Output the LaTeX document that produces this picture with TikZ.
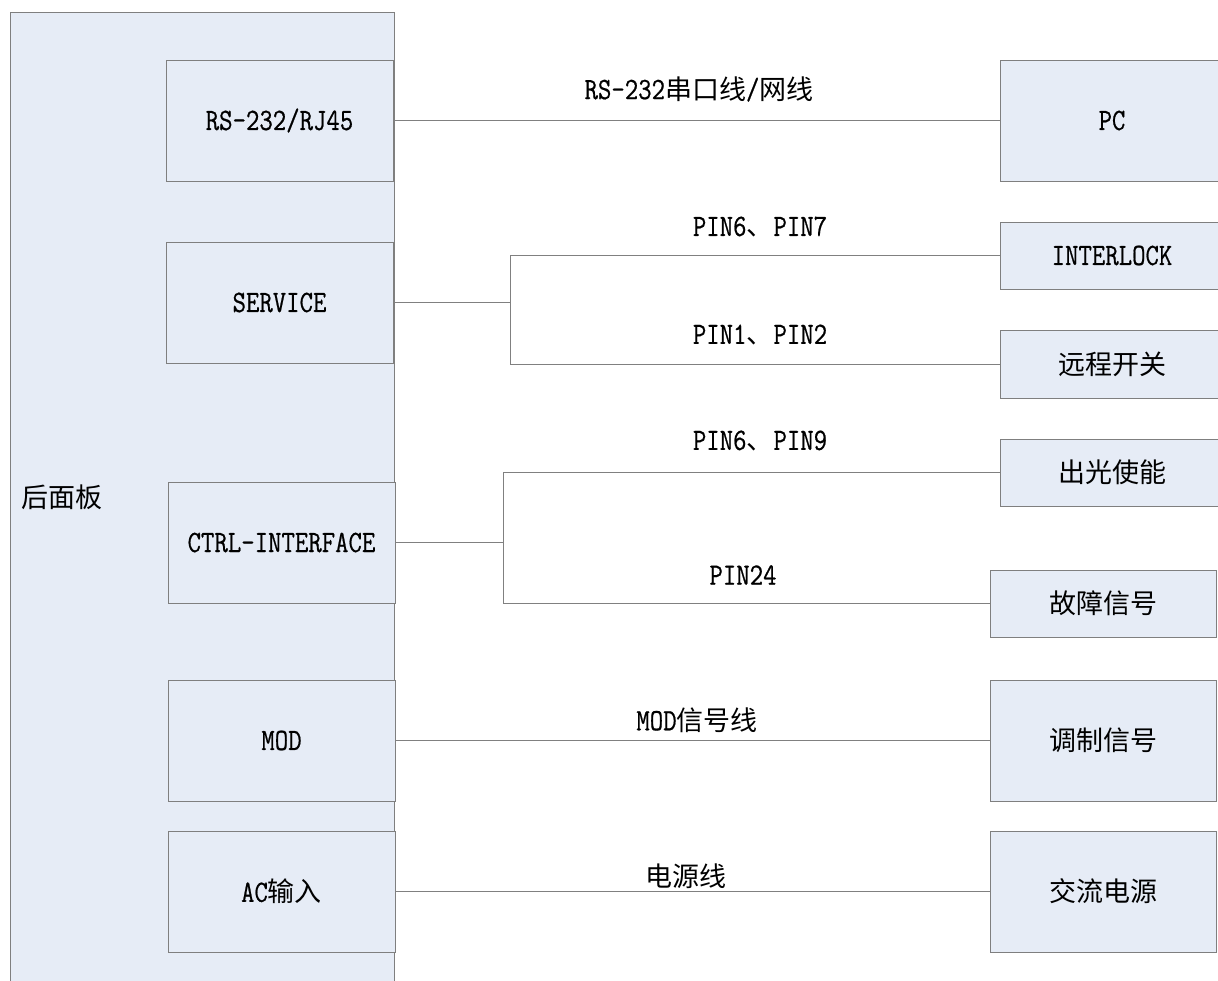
\documentclass[tikz,border=0pt]{standalone}
\usepackage{fontspec}
\setmainfont[FakeStretch=0.84,FakeBold=0.6]{Latin Modern Mono}
\newfontfamily\cjk{Noto Sans CJK SC}
\definecolor{boxfill}{HTML}{E6ECF6}
\definecolor{boxline}{HTML}{7F7F7F}
\definecolor{wire}{HTML}{808080}
\begin{document}
\begin{tikzpicture}[x=1pt,y=-1pt,
  box/.style={draw=boxline,fill=boxfill,line width=0.9pt,inner sep=0pt,rectangle,
    font=\fontsize{31}{35}\selectfont},
  wirestyle/.style={draw=wire,line width=0.9pt},
  lbl/.style={inner sep=0pt,font=\fontsize{31}{35}\selectfont},
  cjkf/.style={font=\fontsize{27}{31}\selectfont\cjk}]
\useasboundingbox (0,0) rectangle (1218,981);
% panel
\node[box,minimum width=384pt,minimum height=980pt] (panel) at (202,502) {};
\node[lbl,cjkf] (paneltext) at (62,497) {后面板};
% left boxes
\node[box,minimum width=227pt,minimum height=121pt] (rs) at (279.5,120.5) {RS-232/RJ45};
\node[box,minimum width=227pt,minimum height=121pt] (svc) at (279.5,302.5) {SERVICE};
\node[box,minimum width=227pt,minimum height=121pt] (ctrl) at (281.5,542.5) {CTRL-INTERFACE};
\node[box,minimum width=227pt,minimum height=121pt] (mod) at (281.5,740.5) {MOD};
\node[box,minimum width=227pt,minimum height=121pt] (ac) at (281.5,891.5) {AC{\fontsize{27}{31}\cjk 输入}};
% right boxes
\node[box,minimum width=224pt,minimum height=121pt] (pc) at (1112,120.5) {PC};
\node[box,minimum width=224pt,minimum height=67pt] (ilk) at (1112,255.5) {INTERLOCK};
\node[box,cjkf,minimum width=224pt,minimum height=68pt] (rsw) at (1112,364) {远程开关};
\node[box,cjkf,minimum width=224pt,minimum height=67pt] (emit) at (1112,472.5) {出光使能};
\node[box,cjkf,minimum width=226pt,minimum height=67pt] (fault) at (1103,603.5) {故障信号};
\node[box,cjkf,minimum width=226pt,minimum height=121pt] (modsig) at (1103,740.5) {调制信号};
\node[box,cjkf,minimum width=226pt,minimum height=121pt] (acp) at (1103,891.5) {交流电源};
% wires
\coordinate (j1) at (510,302.5);
\coordinate (j2) at (503,542.5);
\draw[wirestyle] (rs.east) -- (pc.west);
\draw[wirestyle] (svc.east) -- (j1);
\draw[wirestyle] (j1 |- ilk.west) -- (ilk.west);
\draw[wirestyle] (j1 |- ilk.west) -- (j1 |- rsw.west) -- (rsw.west);
\draw[wirestyle] (ctrl.east) -- (j2);
\draw[wirestyle] (j2 |- emit.west) -- (emit.west);
\draw[wirestyle] (j2 |- emit.west) -- (j2 |- fault.west) -- (fault.west);
\draw[wirestyle] (mod.east) -- (modsig.west);
\draw[wirestyle] (ac.east) -- (acp.west);
% labels
\newcommand\cj[1]{{\fontsize{27}{31}\selectfont\cjk #1}}
\node[lbl] (l1) at (699,89) {RS-232\cj{串口线}/\cj{网线}};
\node[lbl] (l2) at (760,227) {PIN6\cj{、}PIN7};
\node[lbl] (l3) at (760,335) {PIN1\cj{、}PIN2};
\node[lbl] (l4) at (760,441) {PIN6\cj{、}PIN9};
\node[lbl] (l5) at (743,575) {PIN24};
\node[lbl] (l6) at (697,720) {MOD\cj{信号线}};
\node[lbl,cjkf] (l7) at (686,876) {电源线};
\end{tikzpicture}
\end{document}
